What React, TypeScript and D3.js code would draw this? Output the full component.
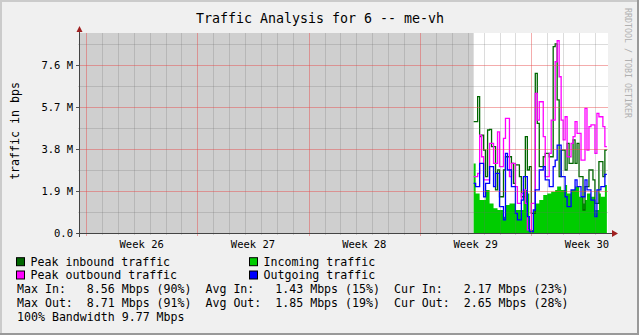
import React from "react";
import * as d3 from "d3";

const W = 639;
const H = 335;

const title = "Traffic Analysis for 6 -- me-vh";
const yAxisTitle = "traffic in bps";
const credit = "RRDTOOL / TOBI OETIKER";

const weekLabels = ["Week 26", "Week 27", "Week 28", "Week 29", "Week 30"];
const weekLabelDays = [3.5, 10.5, 17.5, 24.5, 31.5];
const weekStartDays = [0, 7, 14, 21, 28];

const yMajorTicks = [0, 1.9, 3.8, 5.7, 7.6];
const yMajorLabels = ["0.0", "1.9 M", "3.8 M", "5.7 M", "7.6 M"];
const yMinorTicks = [0.95, 2.85, 4.75, 6.65, 8.55];

// time in days from start of week 26; data every 3 hours
const dataStartDay = 24.375;
const stepDays = 0.125;

const peakIn = [5.04,5.04,6.17,4.36,4.43,3.75,2.55,4.66,4.69,3.91,3.91,1.95,2.85,1.64,1.64,2.85,3.45,3.45,3.45,3.15,2.25,3.08,3.08,2.55,1.64,1.64,4.36,2.85,3.0,0.89,0.89,7.22,4.96,3.0,3.0,3.45,3.6,3.6,3.45,3.45,8.43,8.56,6.02,2.55,3.75,3.75,2.85,4.06,3.15,3.15,4.21,3.15,4.06,2.55,2.55,1.04,2.1,2.1,2.85,2.85,2.4,1.34,1.34,3.23,3.23,2.55,3.75];
const peakOut = [2.55,2.55,2.70,4.43,3.45,2.40,2.40,2.40,4.06,4.06,3.15,3.15,4.58,3.0,3.0,4.28,5.19,5.19,2.55,3.15,3.15,2.10,1.34,1.34,1.79,1.95,1.34,0.14,0.14,1.34,1.34,6.32,5.11,5.94,5.94,4.36,2.55,2.55,3.60,5.11,5.11,7.75,8.70,7.07,5.11,4.21,5.26,3.45,3.45,4.06,4.36,5.04,4.51,4.51,3.30,3.30,5.64,3.75,4.81,4.89,4.89,3.60,5.41,5.26,5.26,4.81,3.91];
const outgoing = [2.25,2.10,2.10,3.15,3.15,1.64,2.25,2.25,3.0,3.0,2.10,2.70,2.70,1.19,1.19,0.59,3.60,2.85,2.85,2.10,2.10,0.89,0.59,0.59,1.49,2.55,2.55,0.74,0.06,0.06,1.04,1.95,1.95,2.85,2.85,3.0,2.40,2.40,2.10,2.10,3.0,3.30,3.98,3.98,2.55,2.55,1.64,1.19,1.19,1.95,1.95,2.40,2.10,2.10,1.64,1.64,2.40,1.95,1.95,1.49,1.49,0.74,1.95,1.95,2.10,2.10,2.65];
const incoming = [3.15,1.79,1.79,1.49,1.49,1.49,1.95,1.95,1.34,1.34,1.12,1.12,1.04,1.04,1.04,0.74,1.27,1.27,1.34,1.34,1.34,1.04,1.04,1.04,1.04,1.95,1.95,1.79,0.14,0.14,1.04,1.34,1.34,1.49,1.49,1.72,1.72,1.79,1.79,1.87,1.87,1.95,2.10,2.10,1.95,1.95,2.17,1.79,1.79,1.95,1.95,2.10,2.10,1.64,1.64,1.34,1.49,1.79,1.79,1.64,1.64,1.04,1.04,1.79,1.64,1.64,2.17];

const legendItems = [
  { label: "Peak inbound traffic", color: "#006600", col: 0, row: 0 },
  { label: "Incoming traffic", color: "#00cc00", col: 1, row: 0 },
  { label: "Peak outbound traffic", color: "#ff00ff", col: 0, row: 1 },
  { label: "Outgoing traffic", color: "#0000ff", col: 1, row: 1 },
];
const statLines = [
  "Max In:   8.56 Mbps (90%)  Avg In:   1.43 Mbps (15%)  Cur In:   2.17 Mbps (23%)",
  "Max Out:  8.71 Mbps (91%)  Avg Out:  1.85 Mbps (19%)  Cur Out:  2.65 Mbps (28%)",
  "100% Bandwidth 9.77 Mbps",
];

const PL = 80, PR = 608, PT = 33, PB = 233;
const MONO = "'DejaVu Sans Mono', monospace";

export default function App() {
  const dayPx = 111.33 / 7;
  const x = d3.scaleLinear().domain([0, 1]).range([86, 86 + dayPx]);
  const dayMin = x.invert(PL);
  const dayMax = x.invert(PR);
  const y = d3.scaleLinear().domain([0, 9.05]).range([PB, PT]);

  const toPts = (arr: number[]) => {
    const pts = arr.map((v, i) => [dataStartDay + i * stepDays, v] as [number, number]);
    pts.push([dataStartDay + arr.length * stepDays, arr[arr.length - 1]]);
    return pts;
  };
  const line = d3
    .line<[number, number]>()
    .x((d) => x(Math.min(d[0], dayMax)))
    .y((d) => y(d[1]))
    .curve(d3.curveStepAfter);
  const area = d3
    .area<[number, number]>()
    .x((d) => x(Math.min(d[0], dayMax)))
    .y0(y(0))
    .y1((d) => y(d[1]))
    .curve(d3.curveStepAfter);

  const minorDays: number[] = [];
  for (let dd = Math.ceil(dayMin); dd <= dayMax; dd++) if (dd % 7 !== 0) minorDays.push(dd);

  const minorGrid = "rgba(110,110,110,0.24)";
  const majorGrid = "rgba(230,70,70,0.45)";

  return (
    <svg width={W} height={H} style={{ position: "absolute", left: 0, top: 0 }} xmlns="http://www.w3.org/2000/svg">
      <rect x={0} y={0} width={W} height={H} fill="#f0f0f0" />
      {/* frame */}
      <rect x={0} y={0} width={W} height={2} fill="#cbcbcb" />
      <rect x={0} y={0} width={2} height={H} fill="#cbcbcb" />
      <rect x={0} y={H - 2} width={W} height={2} fill="#999999" />
      <rect x={W - 2} y={0} width={2} height={H} fill="#999999" />

      <text x={320} y={23} textAnchor="middle" fontFamily={MONO} fontSize={13.3} fill="#000">{title}</text>

      {/* plot canvas */}
      <rect x={PL} y={PT} width={PR - PL} height={PB - PT} fill="#ffffff" />
      <rect x={PL} y={PT} width={x(dataStartDay) - PL} height={PB - PT} fill="#cfcfcf" />

      {/* data */}
      <path d={area(toPts(incoming)) || ""} fill="#00cc00" />
      <path d={line(toPts(peakIn)) || ""} fill="none" stroke="#006600" strokeWidth={1.3} />
      <path d={line(toPts(peakOut)) || ""} fill="none" stroke="#ff00ff" strokeWidth={1.3} />
      <path d={line(toPts(outgoing)) || ""} fill="none" stroke="#0000ff" strokeWidth={1.3} />

      {/* grid */}
      {minorDays.map((dd) => (
        <line key={"vm" + dd} x1={Math.round(x(dd)) + 0.5} x2={Math.round(x(dd)) + 0.5} y1={PT} y2={PB + 2} stroke={minorGrid} />
      ))}
      {yMinorTicks.map((v) => (
        <line key={"hm" + v} x1={PL - 2} x2={PR} y1={Math.round(y(v)) + 0.5} y2={Math.round(y(v)) + 0.5} stroke={minorGrid} />
      ))}
      {weekStartDays.map((dd) => (
        <line key={"vM" + dd} x1={Math.round(x(dd)) + 0.5} x2={Math.round(x(dd)) + 0.5} y1={PT} y2={PB + 3} stroke={majorGrid} />
      ))}
      {yMajorTicks.filter((v) => v > 0).map((v) => (
        <line key={"hM" + v} x1={PL - 3} x2={PR} y1={Math.round(y(v)) + 0.5} y2={Math.round(y(v)) + 0.5} stroke={majorGrid} />
      ))}
      {yMajorTicks.map((v) => (
        <line key={"tk" + v} x1={PL - 4} x2={PL} y1={Math.round(y(v)) + 0.5} y2={Math.round(y(v)) + 0.5} stroke="#555" />
      ))}

      {/* axes */}
      <line x1={PL - 0.5} x2={PL - 0.5} y1={PB + 4} y2={29} stroke="#444" />
      <line x1={PL - 3} x2={PR + 6} y1={PB + 0.5} y2={PB + 0.5} stroke="#444" />
      <path d={`M${PR + 4},${PB - 3} L${PR + 10},${PB + 0.5} L${PR + 4},${PB + 4} Z`} fill="#a02020" />
      <path d={`M${PL - 3.5},${32} L${PL - 0.5},${26} L${PL + 2.5},${32} Z`} fill="#a02020" />

      {/* y labels */}
      {yMajorTicks.map((v, i) => (
        <text key={"yl" + v} x={73} y={y(v) + 3.8} textAnchor="end" fontFamily={MONO} fontSize={10.5} fill="#000" style={{ whiteSpace: "pre" }}>
          {yMajorLabels[i]}
        </text>
      ))}
      {/* x labels */}
      {weekLabels.map((lbl, i) => (
        <text key={lbl} x={x(weekLabelDays[i])} y={248} textAnchor="middle" fontFamily={MONO} fontSize={10.5} fill="#000">
          {lbl}
        </text>
      ))}

      <text transform="translate(19,131) rotate(-90)" textAnchor="middle" fontFamily={MONO} fontSize={11.6} fill="#000">{yAxisTitle}</text>
      <text transform="translate(625,8) rotate(90)" textAnchor="start" fontFamily={MONO} fontSize={8.3} fill="#b0b0b0">{credit}</text>

      {/* legend */}
      {legendItems.map((it) => {
        const bx = it.col === 0 ? 16.5 : 249.5;
        const cy = it.row === 0 ? 261.7 : 275;
        return (
          <g key={it.label}>
            <rect x={bx} y={cy - 4} width={8} height={8} fill={it.color} stroke="#000" strokeWidth={1} />
            <text x={bx + 14} y={cy + 4} fontFamily={MONO} fontSize={11.6} fill="#000">{it.label}</text>
          </g>
        );
      })}
      {statLines.map((s, i) => (
        <text key={i} x={17} y={293 + i * 14} fontFamily={MONO} fontSize={11.6} fill="#000" style={{ whiteSpace: "pre" }} xmlSpace="preserve">
          {s}
        </text>
      ))}
    </svg>
  );
}
